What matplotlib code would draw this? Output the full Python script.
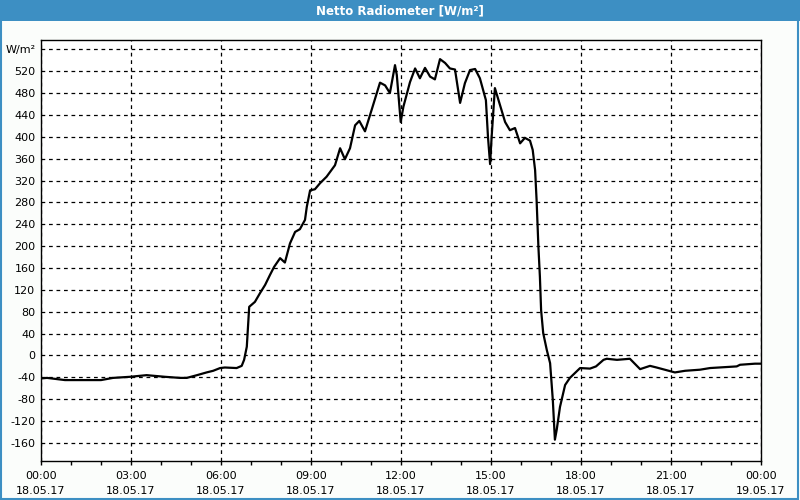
import matplotlib
matplotlib.use("Agg")
import matplotlib.pyplot as plt
from matplotlib.patches import Rectangle

# hours since 18.05.17 00:00 and net radiation in W/m²
hours = [0.0, 0.2, 0.8, 2.0, 2.4, 2.97, 3.52, 4.13, 4.63, 4.86, 5.2, 5.52, 5.74,
         5.97, 6.13, 6.52, 6.69, 6.77, 6.86, 6.94, 7.13, 7.3, 7.47, 7.63, 7.77,
         7.97, 8.13, 8.3, 8.47, 8.63, 8.8, 8.86, 8.97, 9.13, 9.3, 9.52, 9.8, 9.97,
         10.13, 10.3, 10.47, 10.61, 10.8, 11.02, 11.3, 11.47, 11.63, 11.8, 11.86,
         11.99, 12.08, 12.3, 12.47, 12.63, 12.8, 12.97, 13.13, 13.3, 13.47, 13.63,
         13.8, 13.97, 14.13, 14.3, 14.47, 14.63, 14.83, 14.9, 14.97, 15.02, 15.13,
         15.3, 15.47, 15.63, 15.8, 15.97, 16.13, 16.3, 16.39, 16.47, 16.52, 16.58,
         16.63, 16.67, 16.74, 16.86, 16.97, 17.06, 17.13, 17.19, 17.3, 17.47,
         17.63, 17.97, 18.3, 18.5, 18.75, 18.86, 19.2, 19.63, 19.97, 20.3, 20.52,
         21.13, 21.47, 21.97, 22.3, 23.19, 23.3, 23.8, 24.0]
values = [-42, -41, -45, -45, -41, -39, -36, -39, -41, -41, -36, -31, -28,
          -23, -22, -23, -19, -8, 16, 89, 98, 114, 129, 147, 162,
          178, 170, 205, 226, 231, 248, 272, 302, 304, 315, 327, 348, 379,
          359, 379, 421, 429, 410, 449, 499, 494, 480, 531, 513,
          427, 455, 500, 525, 507, 526, 510, 505, 542, 535, 525,
          523, 462, 498, 522, 524, 507, 467, 399, 350, 399, 489,
          458, 427, 412, 416, 388, 398, 393, 376, 339, 284, 199,
          144, 83, 41, 10, -14, -81, -154, -136, -94, -54,
          -41, -23, -24, -20, -8, -6, -8, -6, -25, -19, -22,
          -31, -28, -26, -23, -20, -17, -15, -15]

x_ticks = [0, 3, 6, 9, 12, 15, 18, 21, 24]
x_labels = ["00:00\n18.05.17", "03:00\n18.05.17", "06:00\n18.05.17",
            "09:00\n18.05.17", "12:00\n18.05.17", "15:00\n18.05.17",
            "18:00\n18.05.17", "21:00\n18.05.17", "00:00\n19.05.17"]
y_ticks = list(range(-160, 561, 40))
y_labels = [str(v) for v in y_ticks[:-1]] + ["W/m²"]

blue = "#3d8fc3"
fig = plt.figure(figsize=(8, 5), dpi=100, facecolor="#fbfdfb")

# title bar and frame
fig.patches.append(Rectangle((0, 0.958), 1, 0.042, transform=fig.transFigure,
                             facecolor=blue, edgecolor="none"))
fig.patches.append(Rectangle((0.001, 0.002), 0.997, 0.996, transform=fig.transFigure,
                             facecolor="none", edgecolor=blue, linewidth=1.5))
fig.text(0.5, 0.979, "Netto Radiometer [W/m²]", color="white", fontsize=8.5,
         fontweight="bold", ha="center", va="center")

ax = fig.add_axes([41/800, 39/500, 720/800, 421/500])
ax.set_facecolor("white")
ax.plot(hours, values, color="black", linewidth=1.6, zorder=3)

ax.set_xlim(0, 24)
ax.set_ylim(-193, 577)
ax.set_xticks(x_ticks)
ax.set_xticklabels(x_labels, fontsize=8, linespacing=1.6)
ax.set_xticks(range(0, 25), minor=True)
ax.set_yticks(y_ticks)
ax.set_yticklabels(y_labels, fontsize=8)
ax.tick_params(axis="x", which="both", direction="out", length=3, width=1, pad=4)
ax.tick_params(axis="y", length=0, pad=4)
ax.grid(True, which="major", color="black", linestyle=(0, (3, 3)), linewidth=0.9)
for s in ax.spines.values():
    s.set_color("black")
    s.set_linewidth(1)

fig.savefig("out.png", dpi=100, facecolor=fig.get_facecolor())
